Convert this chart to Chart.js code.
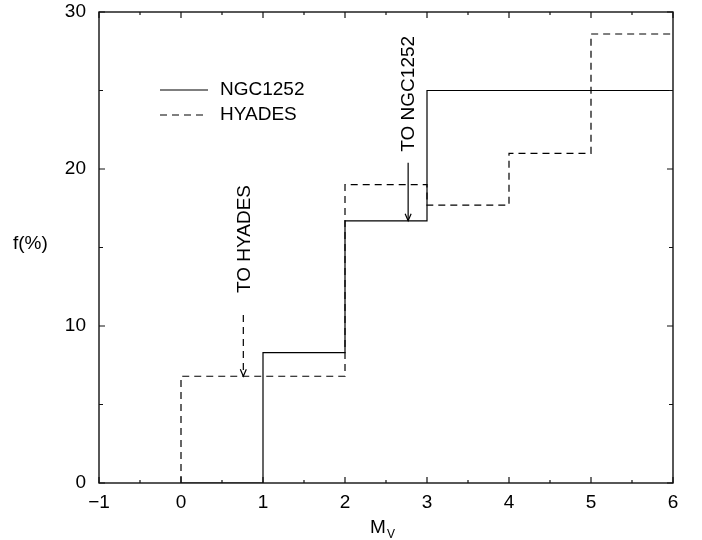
<!DOCTYPE html>
<html>
<head>
<meta charset="utf-8">
<script src="https://cdn.jsdelivr.net/npm/chart.js@4/dist/chart.umd.min.js"></script>
<style>
  html, body { margin: 0; padding: 0; background: #fff; }
</style>
</head>
<body>
<canvas id="chart" width="702" height="540"></canvas>
<script>
// bin edges in M_V and the fraction (%) of stars in each bin
const binEdges = [0, 1, 2, 3, 4, 5, 6];
const ngcValues = [0, 8.3, 16.7, 25, 25, 25];
const hyadesValues = [6.8, 6.8, 19.0, 17.7, 21.0, 28.6];
const seriesNames = ['NGC1252', 'HYADES'];

const xTicks = [-1, 0, 1, 2, 3, 4, 5, 6];
const yTicks = [0, 10, 20, 30];

// arrow notes (data units)
const noteLabels = ['TO HYADES', 'TO NGC1252'];
const noteX = [0.76, 2.77];
const noteFrom = [10.7, 20.4];
const noteTo = [6.8, 16.7];
const noteTextStart = [12.1, 21.1];
const noteDashed = [true, false];

const FONT = '"Liberation Sans", Arial, Helvetica, sans-serif';
const DASH = [7, 5];

function stepPoints(values) {
  const pts = [{ x: binEdges[0], y: 0 }];
  values.forEach((v, i) => {
    pts.push({ x: binEdges[i], y: v });
    pts.push({ x: binEdges[i + 1], y: v });
  });
  return pts;
}

const frame = {
  id: 'frame',
  afterDraw(chart) {
    const ctx = chart.ctx, a = chart.chartArea;
    const xs = chart.scales.x, ys = chart.scales.y;
    ctx.save();
    ctx.strokeStyle = '#111';
    ctx.lineWidth = 1.4;
    ctx.strokeRect(a.left, a.top, a.right - a.left, a.bottom - a.top);

    // inward ticks, major and minor, on all four sides
    ctx.lineWidth = 1.2;
    ctx.beginPath();
    xTicks.forEach((v, i) => {
      const px = xs.getPixelForValue(v);
      ctx.moveTo(px, a.bottom); ctx.lineTo(px, a.bottom - 6);
      ctx.moveTo(px, a.top); ctx.lineTo(px, a.top + 6);
      if (i < xTicks.length - 1) {
        const mx = xs.getPixelForValue((v + xTicks[i + 1]) / 2);
        ctx.moveTo(mx, a.bottom); ctx.lineTo(mx, a.bottom - 3);
        ctx.moveTo(mx, a.top); ctx.lineTo(mx, a.top + 3);
      }
    });
    yTicks.forEach((v, i) => {
      const py = ys.getPixelForValue(v);
      ctx.moveTo(a.left, py); ctx.lineTo(a.left + 6, py);
      ctx.moveTo(a.right, py); ctx.lineTo(a.right - 6, py);
      if (i < yTicks.length - 1) {
        const my = ys.getPixelForValue((v + yTicks[i + 1]) / 2);
        ctx.moveTo(a.left, my); ctx.lineTo(a.left + 4, my);
        ctx.moveTo(a.right, my); ctx.lineTo(a.right - 4, my);
      }
    });
    ctx.stroke();

    // legend
    ctx.fillStyle = '#000';
    ctx.strokeStyle = '#000';
    ctx.lineWidth = 1.2;
    ctx.font = '19px ' + FONT;
    ctx.textBaseline = 'middle';
    ctx.textAlign = 'left';
    seriesNames.forEach((name, i) => {
      const y = a.top + 78 + i * 25;
      ctx.setLineDash(i === 1 ? DASH : []);
      ctx.beginPath();
      ctx.moveTo(a.left + 61, y); ctx.lineTo(a.left + 109, y);
      ctx.stroke();
      ctx.fillText(name, a.left + 121, y);
    });

    // arrows with rotated notes
    noteLabels.forEach((label, i) => {
      const px = xs.getPixelForValue(noteX[i]);
      const y0 = ys.getPixelForValue(noteFrom[i]);
      const y1 = ys.getPixelForValue(noteTo[i]);
      ctx.setLineDash(noteDashed[i] ? DASH : []);
      ctx.beginPath();
      ctx.moveTo(px, y0); ctx.lineTo(px, y1);
      ctx.stroke();
      ctx.setLineDash([]);
      ctx.beginPath();
      ctx.moveTo(px - 3, y1 - 7); ctx.lineTo(px, y1); ctx.lineTo(px + 3, y1 - 7);
      ctx.stroke();
      ctx.save();
      ctx.translate(px, ys.getPixelForValue(noteTextStart[i]));
      ctx.rotate(-Math.PI / 2);
      ctx.textAlign = 'left';
      ctx.textBaseline = 'middle';
      ctx.fillText(label, 0, 1);
      ctx.restore();
    });

    // axis titles
    ctx.textAlign = 'left';
    ctx.textBaseline = 'middle';
    ctx.fillText('f(%)', 13, (a.top + a.bottom) / 2 - 4);
    ctx.textBaseline = 'alphabetic';
    ctx.fillText('M', 370, 533);
    ctx.font = '12px ' + FONT;
    ctx.fillText('V', 387, 538);
    ctx.restore();
  }
};

new Chart(document.getElementById('chart'), {
  type: 'scatter',
  data: {
    datasets: [
      { label: seriesNames[0], data: stepPoints(ngcValues), showLine: true, pointRadius: 0,
        borderColor: '#000', borderWidth: 1.2, tension: 0 },
      { label: seriesNames[1], data: stepPoints(hyadesValues), showLine: true, pointRadius: 0,
        borderColor: '#000', borderWidth: 1.2, borderDash: DASH, tension: 0 }
    ]
  },
  options: {
    responsive: false,
    animation: false,
    devicePixelRatio: 1,
    layout: { padding: { top: 12, right: 29, left: 0, bottom: 0 } },
    plugins: { legend: { display: false }, tooltip: { enabled: false } },
    scales: {
      x: {
        type: 'linear', min: -1, max: 6,
        afterBuildTicks: s => { s.ticks = xTicks.map(v => ({ value: v })); },
        afterFit: s => { s.height = 57; s.paddingLeft = 0; s.paddingRight = 0; },
        grid: { display: false, drawTicks: false },
        border: { display: false },
        ticks: { color: '#000', font: { family: FONT, size: 19 }, padding: 8, maxRotation: 0,
                 callback: v => String(v).replace('-', '\u2212') }
      },
      y: {
        type: 'linear', min: 0, max: 30,
        afterBuildTicks: s => { s.ticks = yTicks.map(v => ({ value: v })); },
        afterFit: s => { s.width = 99; s.paddingTop = 0; s.paddingBottom = 0; },
        grid: { display: false, drawTicks: false },
        border: { display: false },
        ticks: { color: '#000', font: { family: FONT, size: 19 }, padding: 13 }
      }
    }
  },
  plugins: [frame]
});
</script>
</body>
</html>
